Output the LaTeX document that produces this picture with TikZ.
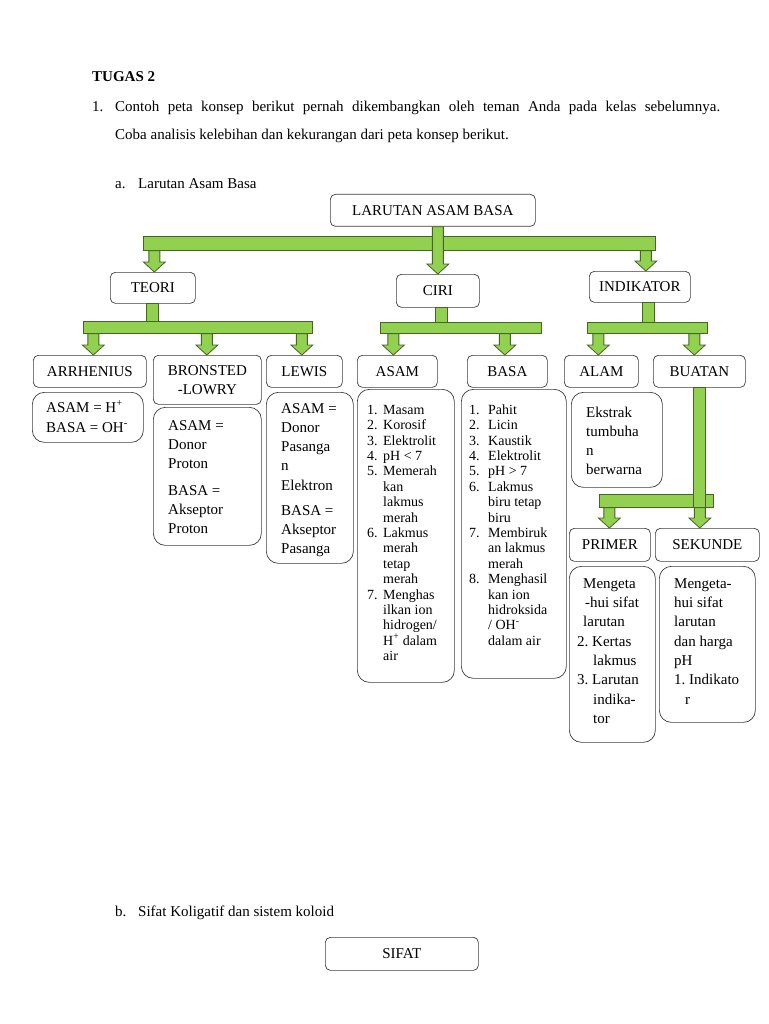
\documentclass[tikz,border=0pt]{standalone}
\usepackage{fontspec}
\setmainfont{Liberation Serif}
\usetikzlibrary{calc}
\definecolor{gfill}{RGB}{146,208,80}
\definecolor{gline}{RGB}{70,100,40}
\definecolor{bline}{RGB}{60,60,60}
\newcommand\myfs[2]{\fontsize{#1}{#2}\selectfont}
\newcommand\numbox[1]{\makebox[16pt][l]{#1}}
\newcommand\numboxb[1]{\makebox[19pt][l]{#1}}
\newcommand\fr{\rule{0pt}{12pt}}
\tikzset{
  gconn/.style={draw=gline, fill=gfill, line width=0.8pt},
  gbar/.style={gconn, inner sep=0, anchor=north west},
  lbox/.style={draw=bline, fill=white, line width=0.7pt, rounded corners=5pt, inner sep=0, anchor=north west, align=center, font=\myfs{15}{19}},
  cbox/.style={draw=bline, fill=white, line width=0.7pt, rounded corners=12pt, inner sep=0, anchor=north west},
  txt/.style={anchor=north west, inner sep=0, align=left, font=\myfs{15}{18}}
}
\newcommand\garrow[2]{\filldraw[gconn] let \p1=(#1), \p2=(#2) in (\x2-5.5pt,\y1) -- (\x2+5.5pt,\y1) -- (\x2+5.5pt,\y2+10pt) -- (\x2+11pt,\y2+10pt) -- (\x2,\y2) -- (\x2-11pt,\y2+10pt) -- (\x2-5.5pt,\y2+10pt) -- cycle;}
\newcommand\gstem[3]{\filldraw[gconn] let \p1=(#1), \p2=(#3) in (\x1+#2-6pt,\y1) rectangle (\x1+#2+6pt,\y2);}
\begin{document}
\begin{tikzpicture}[x=1pt,y=-1pt]
\fill[white] (0,0) rectangle (768,1024);
\useasboundingbox (0,0) rectangle (768,1024);

% header text
\node[txt, font=\bfseries\myfs{15}{18}] (tugas) at (92,69) {\fr TUGAS 2};
\node[txt] (n1) at (92,99) {\fr 1.};
\node[txt, text width=605pt, align=justify, font=\myfs{15}{28}] (par) at (115,99) {\fr Contoh peta konsep berikut pernah dikembangkan oleh teman Anda pada kelas sebelumnya.\linebreak Coba analisis kelebihan dan kekurangan dari peta konsep berikut.};
\node[txt] (na) at (115,176) {\fr a.};
\node[txt] (la) at (138,176) {\fr Larutan Asam Basa};

% label boxes
\node[lbox, minimum width=205, minimum height=32] (larutan) at (330,194) {LARUTAN ASAM BASA};
\node[lbox, minimum width=85, minimum height=31] (teori) at (110,272) {TEORI};
\node[lbox, minimum width=83, minimum height=33] (ciri) at (396,274) {CIRI};
\node[lbox, minimum width=101, minimum height=31] (indikator) at (589,271) {INDIKATOR};
\node[lbox, minimum width=113, minimum height=32] (arrh) at (33,355) {ARRHENIUS};
\node[lbox, minimum width=108, minimum height=49] (bron) at (153,355) {BRONSTED\\-LOWRY};
\node[lbox, minimum width=76, minimum height=32] (lewis) at (266,355) {LEWIS};
\node[lbox, minimum width=80, minimum height=32] (asam) at (357,355) {ASAM};
\node[lbox, minimum width=80, minimum height=32] (basa) at (467,355) {BASA};
\node[lbox, minimum width=74, minimum height=32] (alam) at (564,355) {ALAM};
\node[lbox, minimum width=92, minimum height=32] (buatan) at (653,355) {BUATAN};
\node[lbox, minimum width=81, minimum height=33] (primer) at (569,528) {PRIMER};
\node[lbox, minimum width=104, minimum height=33] (sekunde) at (655,528) {SEKUNDE};

% content boxes
\node[cbox, minimum width=111, minimum height=50] (arrc) at (32,392) {};
\node[cbox, minimum width=108, minimum height=138] (bronc) at (153,407) {};
\node[cbox, minimum width=87, minimum height=171] (lewc) at (266,392) {};
\node[cbox, minimum width=97, minimum height=293] (asamc) at (357,389) {};
\node[cbox, minimum width=105, minimum height=289] (basac) at (461,389) {};
\node[cbox, minimum width=91, minimum height=95] (ekc) at (571,392) {};
\node[cbox, minimum width=86, minimum height=176] (primc) at (569,566) {};
\node[cbox, minimum width=96, minimum height=156] (sekc) at (659,566) {};

% content texts
\node[txt, font=\myfs{15}{20}] (arrt) at (46,400) {\fr ASAM = H\textsuperscript{+}\\BASA = OH\textsuperscript{-}};
\node[txt, font=\myfs{15}{19}] (bront) at (168,418) {\fr ASAM =\\Donor\\Proton\\[8pt]BASA =\\Akseptor\\Proton};
\node[txt, font=\myfs{15}{19.25}] (lewt) at (281,401) {\fr ASAM =\\Donor\\Pasanga\\n\\Elektron\\[6pt]BASA =\\Akseptor\\Pasanga};
\node[txt, font=\myfs{14}{15.4}] (asamt) at (367,402) {\fr\numbox{1.}Masam\\\numbox{2.}Korosif\\\numbox{3.}Elektrolit\\\numbox{4.}pH < 7\\\numbox{5.}Memerah\\\numbox{}kan\\\numbox{}lakmus\\\numbox{}merah\\\numbox{6.}Lakmus\\\numbox{}merah\\\numbox{}tetap\\\numbox{}merah\\\numbox{7.}Menghas\\\numbox{}ilkan ion\\\numbox{}hidrogen/\\\numbox{}H\textsuperscript{+} dalam\\\numbox{}air};
\node[txt, font=\myfs{14}{15.4}] (basat) at (469,402) {\fr\numboxb{1.}Pahit\\\numboxb{2.}Licin\\\numboxb{3.}Kaustik\\\numboxb{4.}Elektrolit\\\numboxb{5.}pH > 7\\\numboxb{6.}Lakmus\\\numboxb{}biru tetap\\\numboxb{}biru\\\numboxb{7.}Membiruk\\\numboxb{}an lakmus\\\numboxb{}merah\\\numboxb{8.}Menghasil\\\numboxb{}kan ion\\\numboxb{}hidroksida\\\numboxb{}/ OH\textsuperscript{-}\\\numboxb{}dalam air};
\node[txt, font=\myfs{15}{19}] (ekt) at (586,405) {\fr Ekstrak\\tumbuha\\n\\berwarna};
\node[txt, font=\myfs{15}{19.3}] (primt) at (577,576) {\fr\hspace*{6pt}Mengeta\\\hspace*{8pt}-hui sifat\\\hspace*{6pt}larutan\\\makebox[15pt][l]{2.}Kertas\\\hspace*{16pt}lakmus\\\makebox[15pt][l]{3.}Larutan\\\hspace*{16pt}indika-\\\hspace*{16pt}tor};
\node[txt, font=\myfs{15}{19.3}] (sekt) at (674,576) {\fr Mengeta-\\hui sifat\\larutan\\dan harga\\pH\\\makebox[15pt][l]{1.}Indikato\\\hspace*{11pt}r};

% green bars
\node[gbar, minimum width=512, minimum height=14] (bar1) at (143,236) {};
\node[gbar, minimum width=229, minimum height=12] (bar2) at (83,321) {};
\node[gbar, minimum width=161, minimum height=11] (bar3) at (380,322) {};
\node[gbar, minimum width=120, minimum height=11] (bar4) at (587,322) {};
\node[gbar, minimum width=114, minimum height=13] (bar5) at (599,494) {};

% level 1
\garrow{bar1.south}{[xshift=1.5pt]teori.north}
\garrow{bar1.south}{[xshift=6pt]indikator.north}
\garrow{larutan.south}{ciri.north}

% level 2: TEORI
\gstem{teori.south}{-0.5pt}{bar2.north}
\garrow{bar2.south}{[xshift=3.5pt]arrh.north}
\garrow{bar2.south}{[xshift=-0.5pt]bron.north}
\garrow{bar2.south}{[xshift=-2.5pt]lewis.north}

% level 2: CIRI
\gstem{ciri.south}{3.5pt}{bar3.north}
\garrow{bar3.south}{[xshift=-4pt]asam.north}
\garrow{bar3.south}{[xshift=-2.5pt]basa.north}

% level 2: INDIKATOR
\gstem{indikator.south}{8.5pt}{bar4.north}
\garrow{bar4.south}{[xshift=-3pt]alam.north}
\garrow{bar4.south}{[xshift=-5pt]buatan.north}

% level 3: BUATAN
\gstem{buatan.south}{0.5pt}{bar5.south}
\garrow{bar5.south}{[xshift=-0.5pt]primer.north}
\garrow{bar5.south}{[xshift=-7.5pt]sekunde.north}

% part b
\node[txt] (nb) at (115,904) {\fr b.};
\node[txt] (lb) at (138,904) {\fr Sifat Koligatif dan sistem koloid};
\node[lbox, minimum width=153, minimum height=33] (sifat) at (325,937) {SIFAT};
\end{tikzpicture}
\end{document}
